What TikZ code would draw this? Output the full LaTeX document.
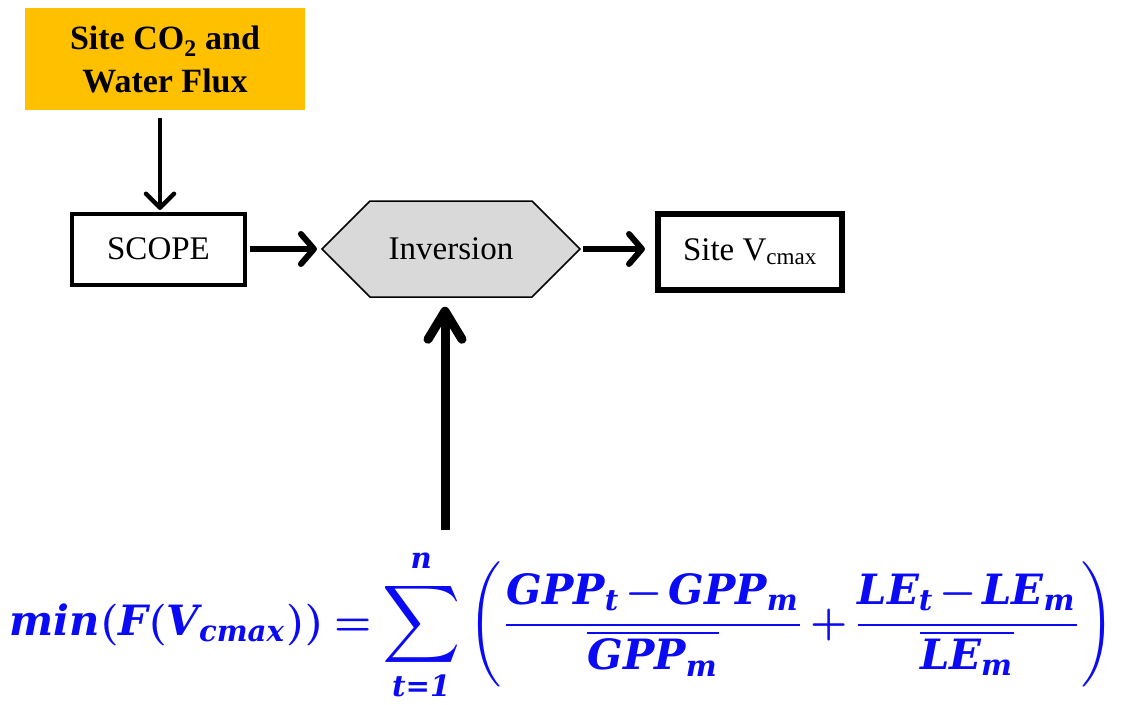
\documentclass[tikz,border=0pt]{standalone}
\usepackage{fontspec}
\usepackage{amsmath}
\setmainfont{Liberation Serif}
\newfontfamily\cb{DejaVu Serif}
\usetikzlibrary{arrows.meta,shapes.symbols,calc}
\definecolor{boxorange}{HTML}{FFC000}
\definecolor{hexgray}{HTML}{D9D9D9}
\definecolor{eqblue}{HTML}{0A0AF5}
\newcommand{\fx}[1]{\text{\cb\bfseries\itshape #1}}
\newcommand{\bigsum}{\mathop{\vcenter{\hbox{\scalebox{1.3}{$\displaystyle\sum$}}}}\limits}
\tikzset{
  barb/.style={-{Straight Barb[length=#1,width=30pt,line cap=round,line join=round]}},
  plainbox/.style={draw=black,rectangle,inner sep=0pt,font=\fontsize{33}{38}\selectfont},
  conn/.style={line width=6pt,barb=13pt},
}
\begin{document}
\begin{tikzpicture}[x=1pt,y=-1pt]
\useasboundingbox (0,0) rectangle (1124,704);
% source box
\node[fill=boxorange,minimum width=280pt,minimum height=102pt,align=center,
      font=\fontsize{34}{43}\bfseries\selectfont] (flux) at (165,59)
      {Site CO\textsubscript{2} and\\Water Flux};
% SCOPE
\node[plainbox,line width=4pt,minimum width=173pt,minimum height=71pt] (scope) at (158.5,249) {SCOPE};
% Inversion hexagon
\node[signal,signal to=west and east,draw=black,fill=hexgray,line width=1.5pt,
      minimum width=258pt,minimum height=96pt,inner sep=0pt,
      font=\fontsize{33}{38}\selectfont] (inv) at (451,249) {Inversion};
% Site Vcmax
\node[plainbox,line width=6pt,minimum width=184pt,minimum height=76pt] (vc) at (750,252)
      {Site V\textsubscript{cmax}};
% formula
\node[text=eqblue,inner sep=0pt] (eq) at (562,625)
  {\resizebox{1105pt}{!}{\thickmuskip=4mu\medmuskip=2mu\boldmath$\displaystyle
   \fx{min}(\fx{F}(\fx{V}_{\fx{cmax}}))=\bigsum_{\fx{t=1}}^{\fx{n}\rule[-0.2em]{0pt}{0.2em}}
   \left(\rule[-1.25em]{0pt}{2.85em}\frac{\fx{GPP}_{\fx{t}}-\fx{GPP}_{\fx{m}}}{\overline{\fx{GPP}_{\fx{m}}}}
   +\frac{\fx{LE}_{\fx{t}}-\fx{LE}_{\fx{m}}}{\overline{\fx{LE}_{\fx{m}}}}\right)$}};
\coordinate (src) at (445,530);
% connectors
\draw[line width=4.5pt,-{Straight Barb[length=14pt,width=28pt,line cap=round,line join=round]},
      shorten <=8pt,shorten >=2pt] (flux.south -| 160,0) -- (160,212);
\draw[conn,shorten <=3pt,shorten >=4pt] (scope.east) -- (inv.west);
\draw[conn,shorten <=2pt,shorten >=10pt] (inv.east) -- (inv.east -| vc.west);
\draw[line width=9pt,-{Straight Barb[length=28pt,width=34pt,line cap=round,line join=round]},
      shorten >=9pt] (src) -- (src |- inv.south);
\end{tikzpicture}
\end{document}
